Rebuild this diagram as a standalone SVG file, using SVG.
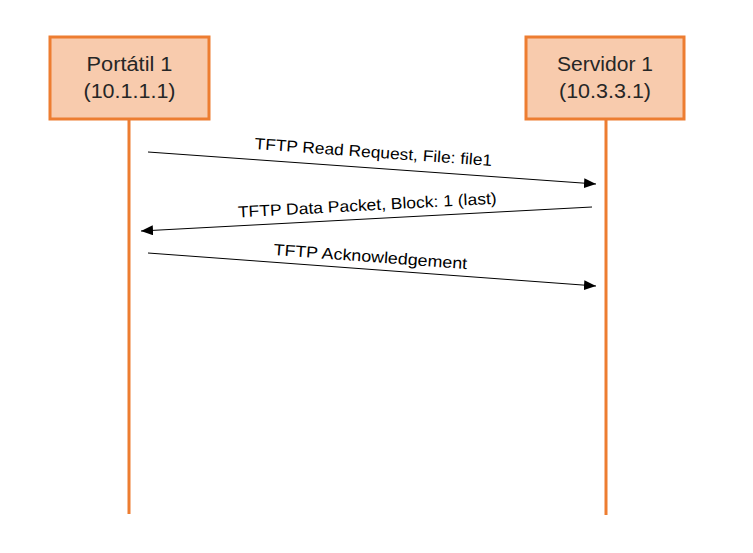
<svg xmlns="http://www.w3.org/2000/svg" width="753" height="553" viewBox="0 0 753 553">
<style>
.box{fill:#F8CBAD;stroke:#ED7D31;stroke-width:3}
.life{stroke:#ED7D31;stroke-width:3}
.nt{font-family:"Liberation Sans",Arial,sans-serif;font-size:20px;fill:#262626;text-anchor:middle}
.msg{stroke:#000;stroke-width:1;fill:none;marker-end:url(#ah)}
.lbl{font-family:"Liberation Sans",Arial,sans-serif;font-size:16px;fill:#000;text-anchor:middle}
</style>
<defs>
<marker id="ah" markerWidth="12" markerHeight="10" refX="12" refY="5" orient="auto" markerUnits="userSpaceOnUse">
<path d="M0,0 L12,5 L0,10 Z" fill="#000"/>
</marker>
</defs>
<rect width="753" height="553" fill="#fff"/>
<g id="lifelines">
<line class="life" x1="129" y1="119" x2="129" y2="514"/>
<line class="life" x1="606" y1="119" x2="606" y2="515"/>
</g>
<g id="portatil1">
<rect class="box" x="50" y="37" width="159" height="82"/>
<text class="nt" x="129.5" y="71" textLength="86" lengthAdjust="spacingAndGlyphs">Portátil 1</text>
<text class="nt" x="129.5" y="98" textLength="92" lengthAdjust="spacingAndGlyphs">(10.1.1.1)</text>
</g>
<g id="servidor1">
<rect class="box" x="526" y="37" width="158" height="82"/>
<text class="nt" x="605" y="71" textLength="96" lengthAdjust="spacingAndGlyphs">Servidor 1</text>
<text class="nt" x="605" y="98" textLength="92" lengthAdjust="spacingAndGlyphs">(10.3.3.1)</text>
</g>
<g id="connectors">
<line class="msg" x1="148" y1="152" x2="596" y2="184"/>
<text class="lbl" transform="translate(373,157.5) rotate(4.09)" textLength="238" lengthAdjust="spacingAndGlyphs">TFTP Read Request, File: file1</text>
<line class="msg" x1="592" y1="207" x2="141" y2="231"/>
<text class="lbl" transform="translate(367.5,210.5) rotate(-3.05)" textLength="259" lengthAdjust="spacingAndGlyphs">TFTP Data Packet, Block: 1 (last)</text>
<line class="msg" x1="148" y1="253" x2="596" y2="286"/>
<text class="lbl" transform="translate(370,262) rotate(4.21)" textLength="194" lengthAdjust="spacingAndGlyphs">TFTP Acknowledgement</text>
</g>
</svg>
